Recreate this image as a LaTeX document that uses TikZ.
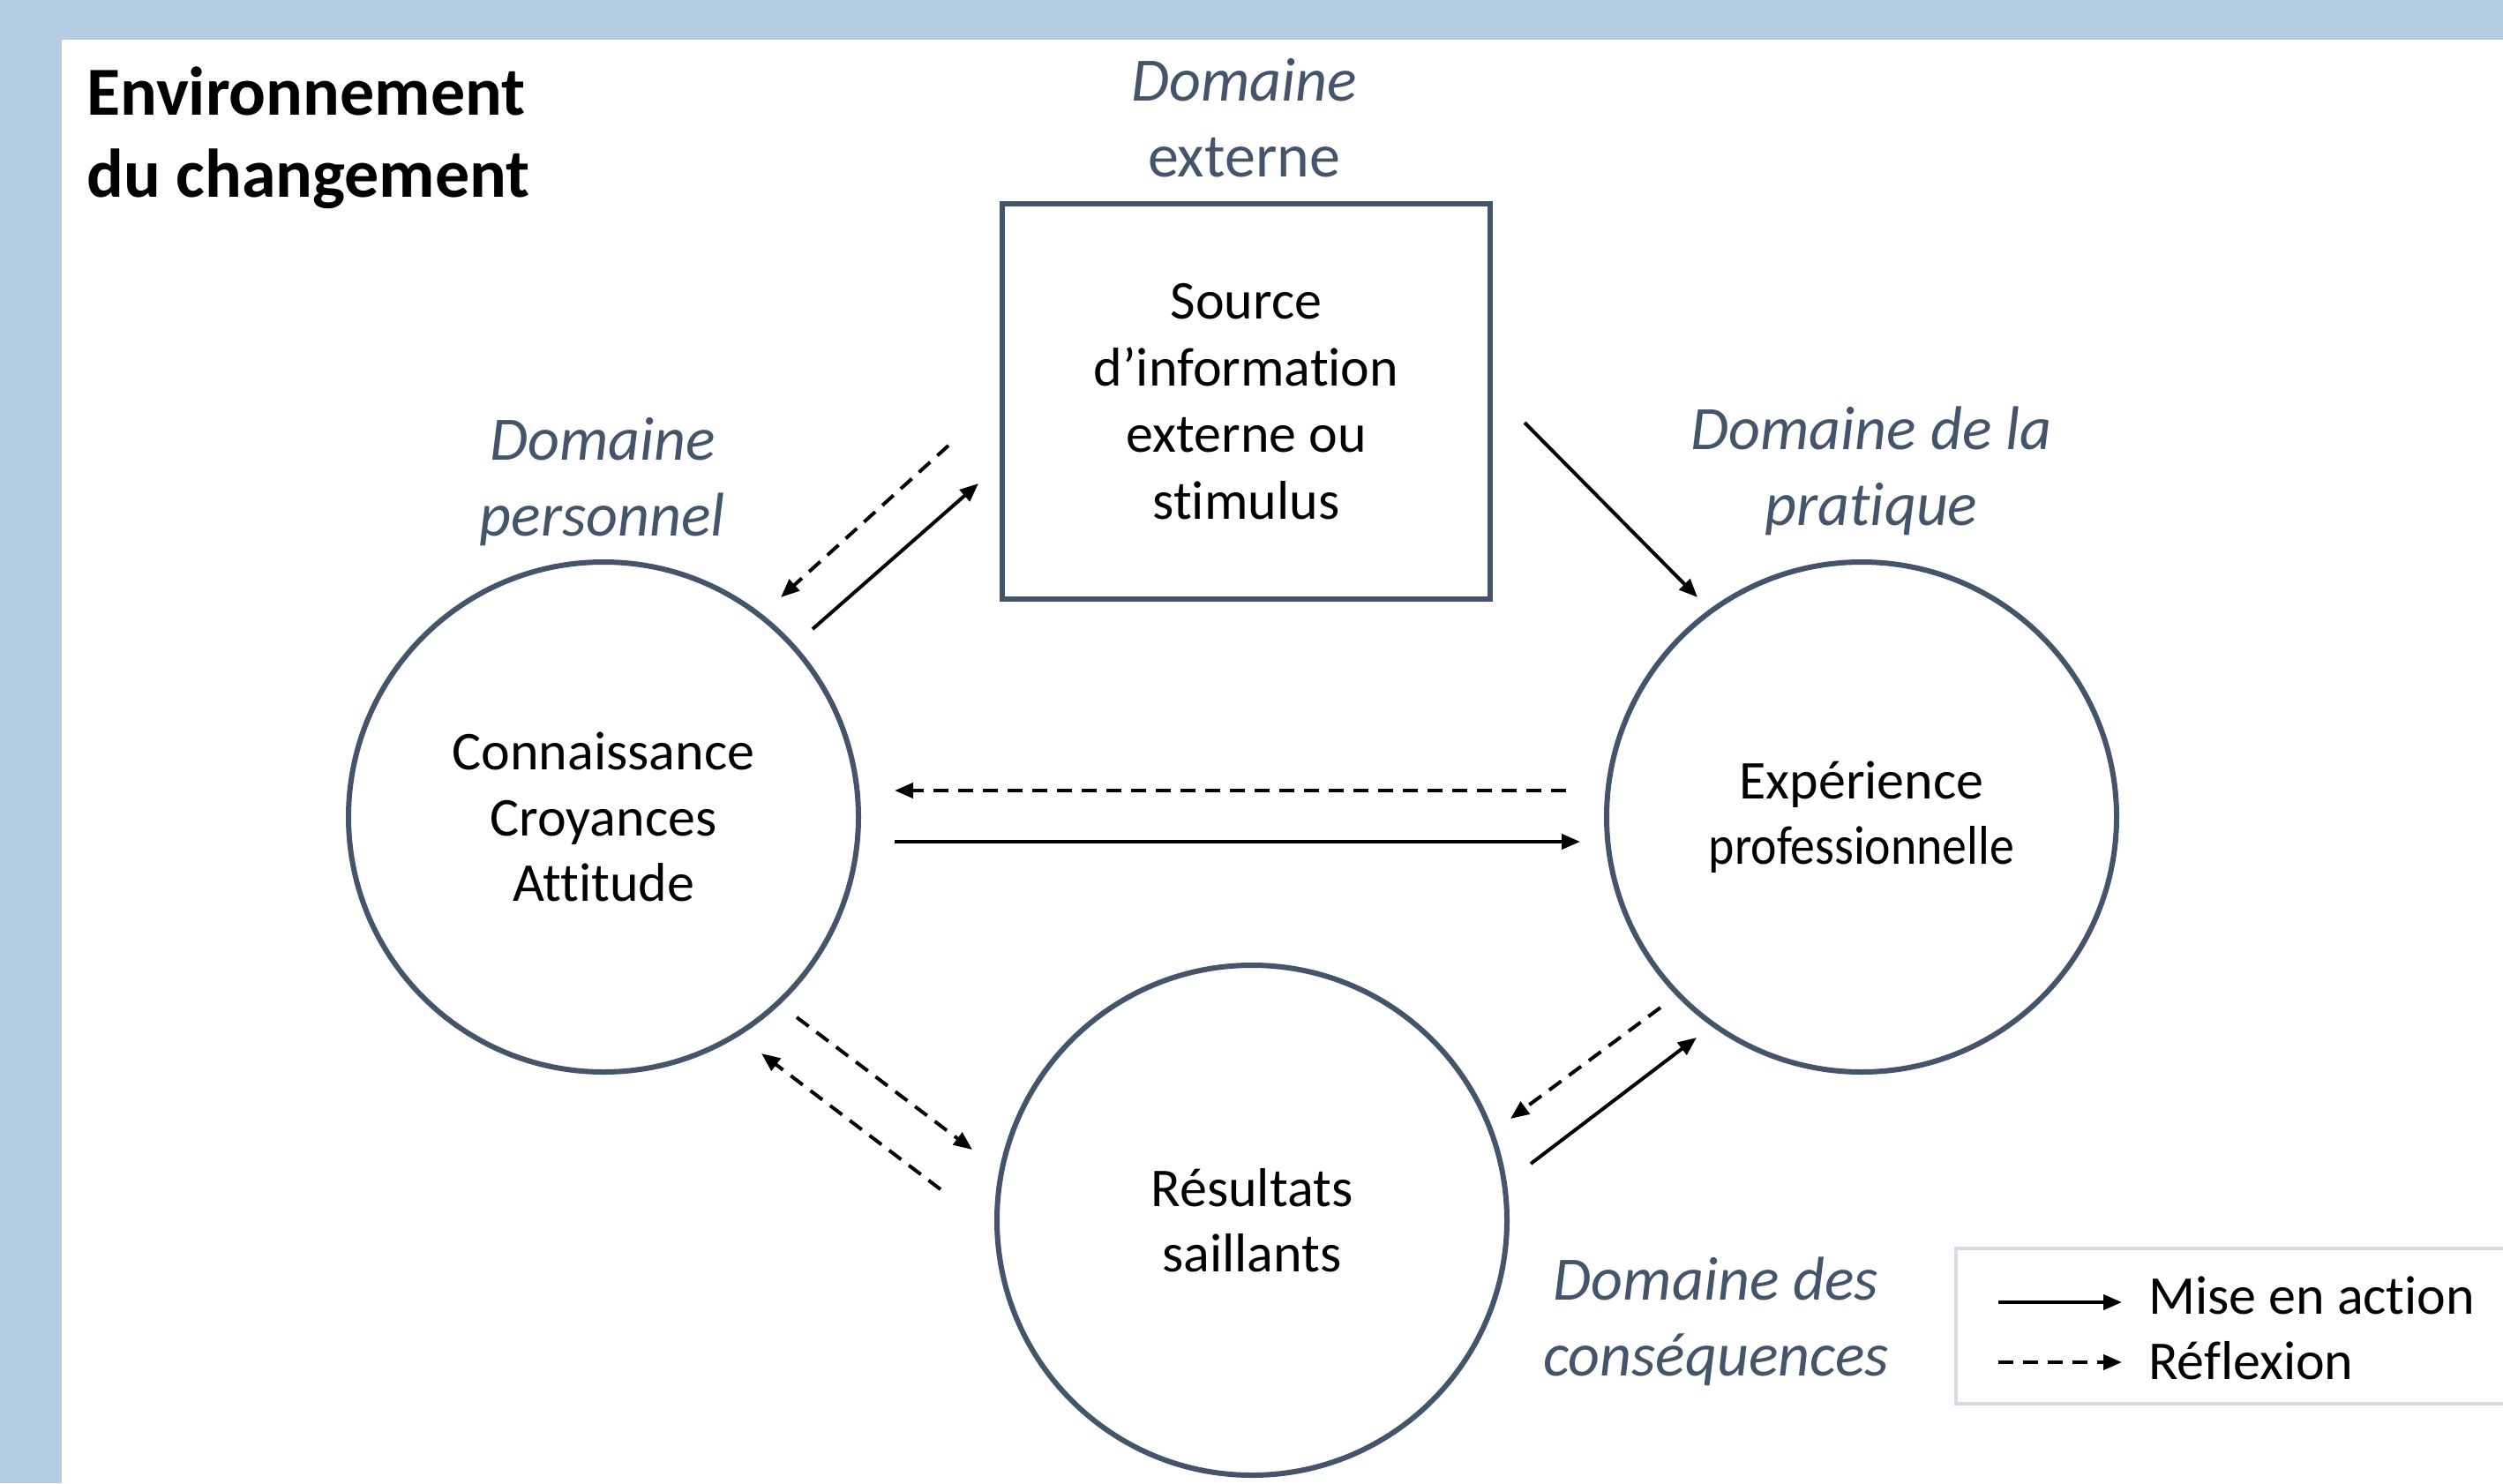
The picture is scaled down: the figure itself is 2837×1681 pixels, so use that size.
\documentclass[tikz,border=0pt]{standalone}
\usepackage{fontspec}
\setmainfont{Carlito}[Ligatures=NoCommon]
\usetikzlibrary{arrows.meta}
\definecolor{bgblue}{HTML}{B4CCE2}
\definecolor{slate}{HTML}{44546A}
\definecolor{legendborder}{HTML}{D6DCE5}
\begin{document}
\begin{tikzpicture}[x=1pt,y=-1pt,
  circ/.style={circle, draw=slate, line width=6pt, minimum size=578pt, inner sep=0pt, align=center, font=\fontsize{62}{74.5}\selectfont},
  srcbox/.style={rectangle, draw=slate, line width=6pt, minimum width=553pt, minimum height=448pt, inner sep=0pt, align=center, font=\fontsize{62}{75.5}\selectfont},
  domlabel/.style={align=center, text=slate, inner sep=0pt, font=\fontsize{70}{86}\selectfont\itshape},
  act/.style={line width=4pt, -{Triangle[length=21pt,width=17pt]}},
  refl/.style={line width=4pt, dash pattern=on 17pt off 11pt, -{Triangle[length=21pt,width=17pt]}},
  legtext/.style={anchor=base west, inner sep=0pt, font=\fontsize{62}{74}\selectfont}
]
\useasboundingbox (0,0) rectangle (2837,1681);
\fill[white] (0,0) rectangle (2837,1681);
\fill[bgblue] (0,0) rectangle (2837,45);
\fill[bgblue] (0,0) rectangle (70,1681);

% title
\node[anchor=north west, align=left, inner sep=0pt, font=\fontsize{78}{93}\selectfont\bfseries] (title) at (98,76) {Environnement\\du changement};

% main nodes
\node[srcbox] (src) at (1412.5,455) {Source\\d’information\\externe ou\\stimulus};
\node[circ] (pers) at (684,926) {Connaissance\\Croyances\\Attitude};
\node[circ] (prat) at (2110,926) {Expérience\\\scalebox{0.9}[1]{professionnelle}};
\node[circ] (res) at (1419,1383) {Résultats\\saillants};

% domain labels
\node[domlabel] (dext) at (1410,134) {Domaine\\\upshape externe};
\node[domlabel] (dpers) at (683,546) {Domaine\\personnel};
\node[domlabel] (dprat) at (2121,534) {Domaine de la\\pratique};
\node[domlabel] (dcons) at (1945,1498) {Domaine des\\conséquences};

% arrow end points
\coordinate (a1s) at (1075,505); \coordinate (a1e) at (885,677);
\coordinate (a2s) at (921,713);  \coordinate (a2e) at (1109,548);
\coordinate (a3s) at (1728,479); \coordinate (a3e) at (1924,677);
\coordinate (a4s) at (1775,896); \coordinate (a4e) at (1014,896);
\coordinate (a5s) at (1014,954); \coordinate (a5e) at (1791,954);
\coordinate (a6s) at (903,1153); \coordinate (a6e) at (1102,1303);
\coordinate (a7s) at (1066,1348); \coordinate (a7e) at (863,1194);
\coordinate (a8s) at (1882,1142); \coordinate (a8e) at (1712,1268);
\coordinate (a9s) at (1735,1319); \coordinate (a9e) at (1923,1176);

\draw[refl] (a1s) -- (a1e);
\draw[act]  (a2s) -- (a2e);
\draw[act]  (a3s) -- (a3e);
\draw[refl] (a4s) -- (a4e);
\draw[act]  (a5s) -- (a5e);
\draw[refl] (a6s) -- (a6e);
\draw[refl] (a7s) -- (a7e);
\draw[refl] (a8s) -- (a8e);
\draw[act]  (a9s) -- (a9e);

% legend
\node[draw=legendborder, line width=4pt, rectangle, anchor=north west, minimum width=640pt, minimum height=176pt, inner sep=0pt] (legend) at (2215,1413) {};
\coordinate (l1s) at (2265,1476); \coordinate (l1e) at (2405,1476);
\coordinate (l2s) at (2265,1544); \coordinate (l2e) at (2405,1544);
\draw[act] (l1s) -- (l1e);
\draw[refl] (l2s) -- (l2e);
\node[legtext] (lt1) at (2435,1489) {Mise en action};
\node[legtext] (lt2) at (2435,1563) {Réflexion};
\end{tikzpicture}
\end{document}
